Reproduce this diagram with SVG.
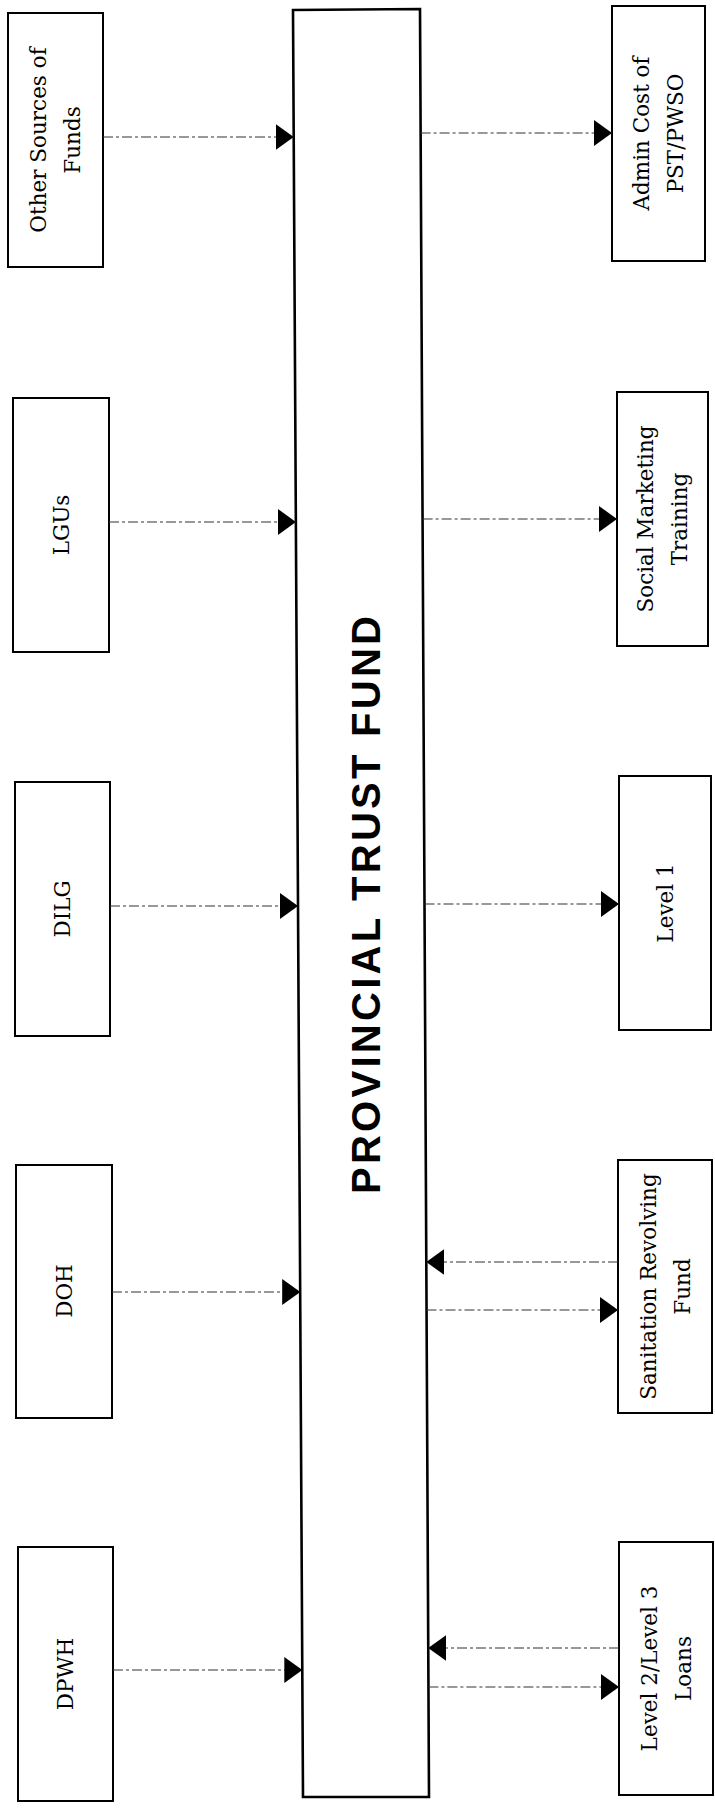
<svg xmlns="http://www.w3.org/2000/svg" width="715" height="1810" viewBox="0 0 715 1810">
  <defs>
    <marker id="arr" markerUnits="userSpaceOnUse" markerWidth="18" markerHeight="26" refX="18" refY="13" orient="auto">
      <path d="M0,0 L18,13 L0,26 z" fill="#000"/>
    </marker>
    <style>
      .box { fill: #fff; stroke: #000; stroke-width: 2; }
      .main { fill: #fff; stroke: #000; stroke-width: 2.6; }
      .lbl { font-family: "DejaVu Serif", "Liberation Serif", serif; font-size: 21.5px; fill: #000; text-anchor: middle; }
      .title { font-family: "Liberation Sans", Arial, sans-serif; font-weight: bold; font-size: 40px; fill: #000; text-anchor: middle; }
      .conn { fill: none; stroke: #333; stroke-width: 1.2; stroke-dasharray: 10 3 3 3; marker-end: url(#arr); }
    </style>
  </defs>
  <rect width="715" height="1810" fill="#fff"/>

  <g id="provincial-trust-fund">
    <polygon class="main" points="293,10 420,9 429,1797 303,1797"/>
    <text class="title" transform="translate(380,905) rotate(-90)" textLength="578">PROVINCIAL TRUST FUND</text>
  </g>

  <g id="other-sources">
    <rect class="box" x="8" y="13" width="95" height="254"/>
    <text class="lbl" transform="translate(55.5,140) rotate(-90)"><tspan x="0" y="-9.5">Other Sources of</tspan><tspan x="0" y="24.5">Funds</tspan></text>
  </g>
  <g id="lgus">
    <rect class="box" x="13" y="398" width="96" height="254"/>
    <text class="lbl" transform="translate(61,525) rotate(-90)" y="7.7">LGUs</text>
  </g>
  <g id="dilg">
    <rect class="box" x="15" y="782" width="95" height="254"/>
    <text class="lbl" transform="translate(62.5,909) rotate(-90)" y="7.7">DILG</text>
  </g>
  <g id="doh">
    <rect class="box" x="16" y="1165" width="96" height="253"/>
    <text class="lbl" transform="translate(64,1291) rotate(-90)" y="7.7">DOH</text>
  </g>
  <g id="dpwh">
    <rect class="box" x="18" y="1547" width="95" height="254"/>
    <text class="lbl" transform="translate(65.5,1674) rotate(-90)" y="7.7">DPWH</text>
  </g>

  <g id="admin-cost">
    <rect class="box" x="612" y="6" width="93" height="255"/>
    <text class="lbl" transform="translate(658.5,133.5) rotate(-90)"><tspan x="0" y="-9.5">Admin Cost of</tspan><tspan x="0" y="24.5">PST/PWSO</tspan></text>
  </g>
  <g id="social-marketing">
    <rect class="box" x="617" y="392" width="91" height="254"/>
    <text class="lbl" transform="translate(662.5,519) rotate(-90)"><tspan x="0" y="-9.5">Social Marketing</tspan><tspan x="0" y="24.5">Training</tspan></text>
  </g>
  <g id="level-1">
    <rect class="box" x="619" y="776" width="92" height="254"/>
    <text class="lbl" transform="translate(665,903) rotate(-90)" y="7.7">Level 1</text>
  </g>
  <g id="sanitation-revolving-fund">
    <rect class="box" x="618" y="1160" width="94" height="253"/>
    <text class="lbl" transform="translate(665,1286.5) rotate(-90)"><tspan x="0" y="-9.5">Sanitation Revolving</tspan><tspan x="0" y="24.5">Fund</tspan></text>
  </g>
  <g id="level-2-3-loans">
    <rect class="box" x="619" y="1542" width="94" height="253"/>
    <text class="lbl" transform="translate(666,1668.5) rotate(-90)"><tspan x="0" y="-9.5">Level 2/Level 3</tspan><tspan x="0" y="24.5">Loans</tspan></text>
  </g>

  <g id="connectors">
    <line class="conn" x1="103" y1="137" x2="293.7" y2="137"/>
    <line class="conn" x1="109" y1="522" x2="295.9" y2="522"/>
    <line class="conn" x1="110" y1="906" x2="298" y2="906"/>
    <line class="conn" x1="112" y1="1292" x2="300.2" y2="1292"/>
    <line class="conn" x1="113" y1="1670" x2="302.3" y2="1670"/>
    <line class="conn" x1="420.6" y1="133" x2="612" y2="133"/>
    <line class="conn" x1="422.6" y1="519" x2="617" y2="519"/>
    <line class="conn" x1="424.5" y1="904" x2="619" y2="904"/>
    <line class="conn" x1="618" y1="1262" x2="426.3" y2="1262"/>
    <line class="conn" x1="426.5" y1="1310" x2="618" y2="1310"/>
    <line class="conn" x1="619" y1="1648" x2="428.2" y2="1648"/>
    <line class="conn" x1="428.4" y1="1687" x2="619" y2="1687"/>
  </g>
</svg>
